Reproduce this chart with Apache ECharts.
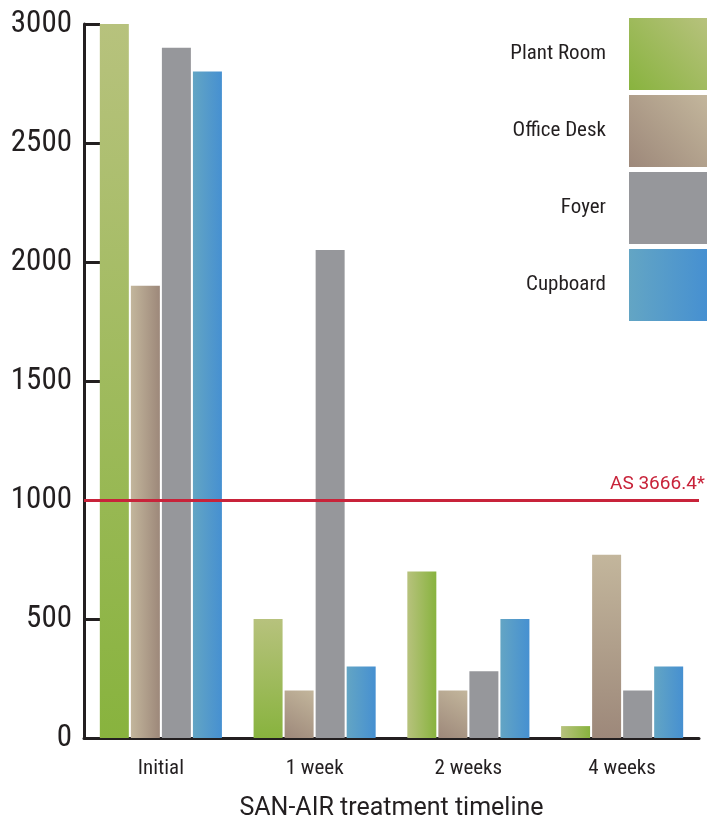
<!DOCTYPE html>
<html><head><meta charset="utf-8">
<script src="https://cdn.jsdelivr.net/npm/echarts@6/dist/echarts.min.js"></script>
<style>html,body{margin:0;padding:0;background:#fff}#c{width:720px;height:819px}</style>
</head><body><div id="c"></div>
<script>
const categories = ['Initial', '1 week', '2 weeks', '4 weeks'];
const plantRoom = [3000, 500, 700, 50];
const officeDesk = [1900, 200, 200, 770];
const foyer = [2900, 2050, 280, 200];
const cupboard = [2800, 300, 500, 300];
const yTicks = [0, 500, 1000, 1500, 2000, 2500, 3000];
const standardValue = 1000;
const standardLabel = 'AS 3666.4*';
const xTitle = 'SAN-AIR treatment timeline';

const FONT = '"Roboto Condensed", "Liberation Sans Narrow", "DejaVu Sans Condensed", Roboto, sans-serif';
const FONT_REG = 'Roboto, "Noto Sans", sans-serif';
const INK = '#231f20';

function grad(dir, light, dark) {
  if (dir === 'flat') return light;
  let c;
  if (dir === 'v') c = [0, 0, 0, 1];
  else if (dir === 'h') c = [0, 0, 1, 0];
  else c = [1, 0, 0, 1];
  return { type: 'linear', x: c[0], y: c[1], x2: c[2], y2: c[3],
    colorStops: [{ offset: 0, color: light }, { offset: 1, color: dark }] };
}
const palette = {
  green: ['#b7c27d', '#88b33e'],
  brown: ['#c3b69c', '#9d887a'],
  grey: ['#96979b', '#96979b'],
  blue: ['#63a5c4', '#4690d1']
};
const dirs = {
  green: ['v', 'v', 'h', 'h'],
  brown: ['h', 'd', 'd', 'v'],
  grey: ['flat', 'flat', 'flat', 'flat'],
  blue: ['h', 'h', 'h', 'h']
};
const legendDir = { green: 'd', brown: 'd', grey: 'flat', blue: 'h' };

function mk(name, values, key, extra) {
  const p = palette[key];
  return Object.assign({
    name, type: 'bar', barWidth: 29, barGap: '7%',
    itemStyle: { color: grad(legendDir[key], p[0], p[1]) },
    data: values.map((v, i) => ({ value: v, itemStyle: { color: grad(dirs[key][i], p[0], p[1]) } }))
  }, extra || {});
}

const chart = echarts.init(document.getElementById('c'), null, { renderer: 'canvas' });
chart.setOption({
  animation: false,
  textStyle: { fontFamily: FONT },
  grid: { left: 84, right: 21, top: 24, bottom: 81, containLabel: false, outerBoundsMode: 'none' },
  legend: {
    orient: 'vertical', right: 13, top: 18, align: 'right', padding: 0,
    icon: 'rect', itemWidth: 78, itemHeight: 72, itemGap: 5,
    textStyle: { fontFamily: FONT, fontSize: 21, color: INK, padding: [5, 18, 0, 0] },
    data: ['Plant Room', 'Office Desk', 'Foyer', 'Cupboard']
  },
  xAxis: {
    type: 'category', data: categories,
    axisLine: { lineStyle: { color: INK, width: 3 } },
    axisTick: { inside: true, length: 16, lineStyle: { color: INK, width: 3 } },
    axisLabel: { fontFamily: FONT, fontSize: 21, color: INK, margin: 20 },
    name: xTitle, nameLocation: 'middle', nameGap: 58,
    nameTextStyle: { fontFamily: FONT_REG, fontSize: 25, color: INK }
  },
  yAxis: {
    type: 'value', min: yTicks[0], max: yTicks[yTicks.length - 1], interval: 500,
    axisLine: { show: true, lineStyle: { color: INK, width: 3 } },
    axisTick: { show: true, inside: true, length: 16, lineStyle: { color: INK, width: 3 } },
    axisLabel: { fontFamily: FONT, fontSize: 31, color: INK, margin: 12, formatter: v => String(v) },
    splitLine: { show: false }
  },
  series: [
    mk('Plant Room', plantRoom, 'green', {
      markLine: {
        silent: true, symbol: 'none',
        lineStyle: { color: '#c8233a', width: 3, type: 'solid' },
        label: { show: true, position: 'insideEndTop', formatter: standardLabel,
          color: '#c8233a', fontFamily: FONT_REG, fontSize: 19, distance: [-6, 6] },
        data: [{ yAxis: standardValue }]
      }
    }),
    mk('Office Desk', officeDesk, 'brown'),
    mk('Foyer', foyer, 'grey'),
    mk('Cupboard', cupboard, 'blue')
  ]
});
</script></body></html>
